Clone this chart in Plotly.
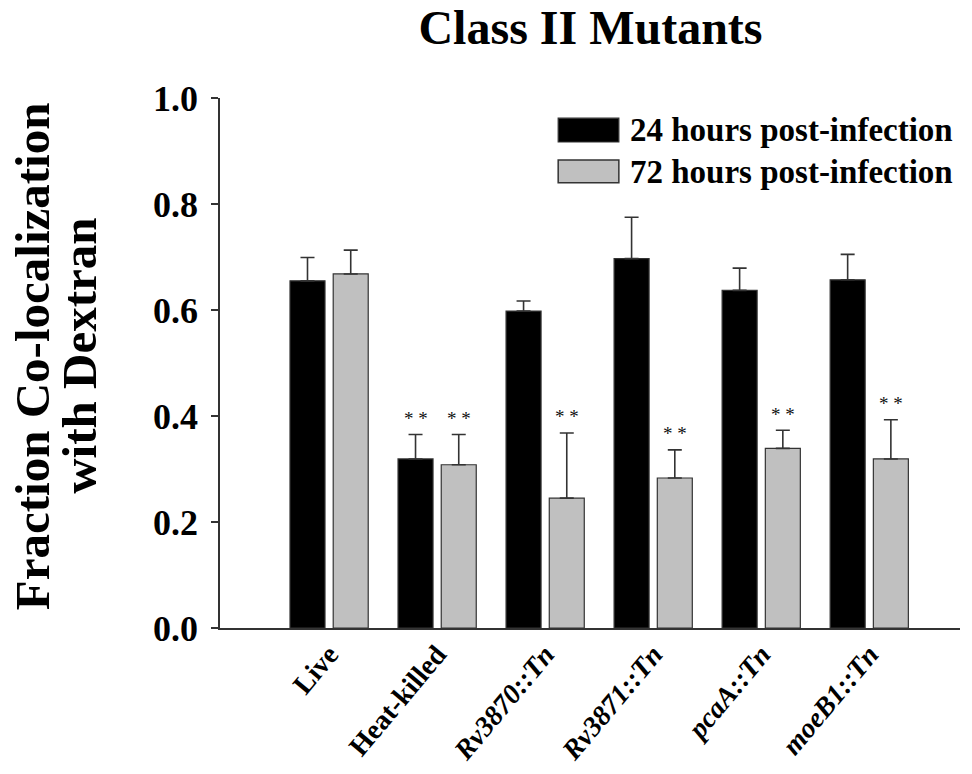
import plotly.graph_objects as go

categories = ["Live", "Heat-killed", "<i>Rv3870::Tn</i>", "<i>Rv3871::Tn</i>", "<i>pcaA::Tn</i>", "<i>moeB1::Tn</i>"]
h24 = [0.655, 0.319, 0.598, 0.697, 0.637, 0.657]
h24_err = [0.044, 0.046, 0.019, 0.078, 0.042, 0.048]
h72 = [0.668, 0.308, 0.245, 0.283, 0.339, 0.319]
h72_err = [0.045, 0.057, 0.123, 0.053, 0.034, 0.074]
sig24 = [False, True, False, False, False, False]
sig72 = [False, True, True, True, True, True]
yticks = [0.0, 0.2, 0.4, 0.6, 0.8, 1.0]

FONT = "Liberation Serif, Times New Roman, serif"
xpos = list(range(len(categories)))

fig = go.Figure()
fig.add_trace(go.Bar(
    x=xpos, y=h24, name="24 hours post-infection",
    marker=dict(color="#000000", line=dict(color="#333333", width=1.2)),
    error_y=dict(type="data", array=h24_err, arrayminus=[0]*6, symmetric=False,
                 color="#333333", thickness=1.6, width=7),
))
fig.add_trace(go.Bar(
    x=xpos, y=h72, name="72 hours post-infection",
    marker=dict(color="#c0c0c0", line=dict(color="#333333", width=1.2)),
    error_y=dict(type="data", array=h72_err, arrayminus=[0]*6, symmetric=False,
                 color="#333333", thickness=1.6, width=7),
))

annotations = []
for i in xpos:
    if sig24[i]:
        annotations.append(dict(x=i - 0.2, y=h24[i] + h24_err[i], xref="x", yref="y",
                                 text="* *", showarrow=False, yshift=16,
                                 font=dict(family=FONT, size=19, color="#111")))
    if sig72[i]:
        annotations.append(dict(x=i + 0.2, y=h72[i] + h72_err[i], xref="x", yref="y",
                                 text="* *", showarrow=False, yshift=16,
                                 font=dict(family=FONT, size=19, color="#111")))

# legend text
annotations.append(dict(x=0.551, y=0.94, xref="paper", yref="paper", xanchor="left", yanchor="middle",
                        text="<b>24 hours post-infection</b>", showarrow=False,
                        font=dict(family=FONT, size=33, color="black")))
annotations.append(dict(x=0.551, y=0.861, xref="paper", yref="paper", xanchor="left", yanchor="middle",
                        text="<b>72 hours post-infection</b>", showarrow=False,
                        font=dict(family=FONT, size=33, color="black")))
# y axis title (two lines)
annotations.append(dict(x=-0.254, y=0.513, xref="paper", yref="paper", xanchor="center", yanchor="middle",
                        text="<b>Fraction Co-localization</b>", showarrow=False,
                        textangle=-90, font=dict(family=FONT, size=49, color="black")))
annotations.append(dict(x=-0.191, y=0.513, xref="paper", yref="paper", xanchor="center", yanchor="middle",
                        text="<b>with Dextran</b>", showarrow=False,
                        textangle=-90, font=dict(family=FONT, size=49, color="black")))

shapes = [
    dict(type="rect", xref="paper", yref="paper", x0=0.457, x1=0.539, y0=0.917, y1=0.962,
         fillcolor="#000000", line=dict(color="#333333", width=1.2)),
    dict(type="rect", xref="paper", yref="paper", x0=0.457, x1=0.539, y0=0.840, y1=0.883,
         fillcolor="#c0c0c0", line=dict(color="#333333", width=1.5)),
]

fig.update_layout(
    width=972, height=774,
    margin=dict(l=220, r=12, t=98, b=146),
    paper_bgcolor="white", plot_bgcolor="white",
    barmode="group", bargap=0.2, bargroupgap=0.19,
    showlegend=False,
    title=dict(text="<b>Class II Mutants</b>", x=0.6075, xanchor="center", y=0.965, yanchor="middle",
               yref="container", xref="container",
               font=dict(family=FONT, size=48, color="black")),
    annotations=annotations, shapes=shapes,
)
fig.update_xaxes(
    range=[-1.01, 5.84], tickmode="array", tickvals=xpos,
    ticktext=["<b>" + c + "</b>" for c in categories], tickangle=-50,
    tickfont=dict(family=FONT, size=28, color="black"), automargin=False,
    showline=True, linecolor="#333333", linewidth=1.6, ticks="", showgrid=False, zeroline=False,
    ticklabelstandoff=-3,
)
fig.update_yaxes(
    range=[0, 1.0], tickmode="array", tickvals=yticks,
    ticktext=["<b>%.1f</b>" % v for v in yticks],
    tickfont=dict(family=FONT, size=36, color="black"), automargin=False,
    showline=True, linecolor="#333333", linewidth=1.6, ticks="outside", ticklen=7,
    tickcolor="#333333", tickwidth=1.6, showgrid=False, zeroline=False, ticklabelstandoff=6,
)
fig.write_html("out.html")
